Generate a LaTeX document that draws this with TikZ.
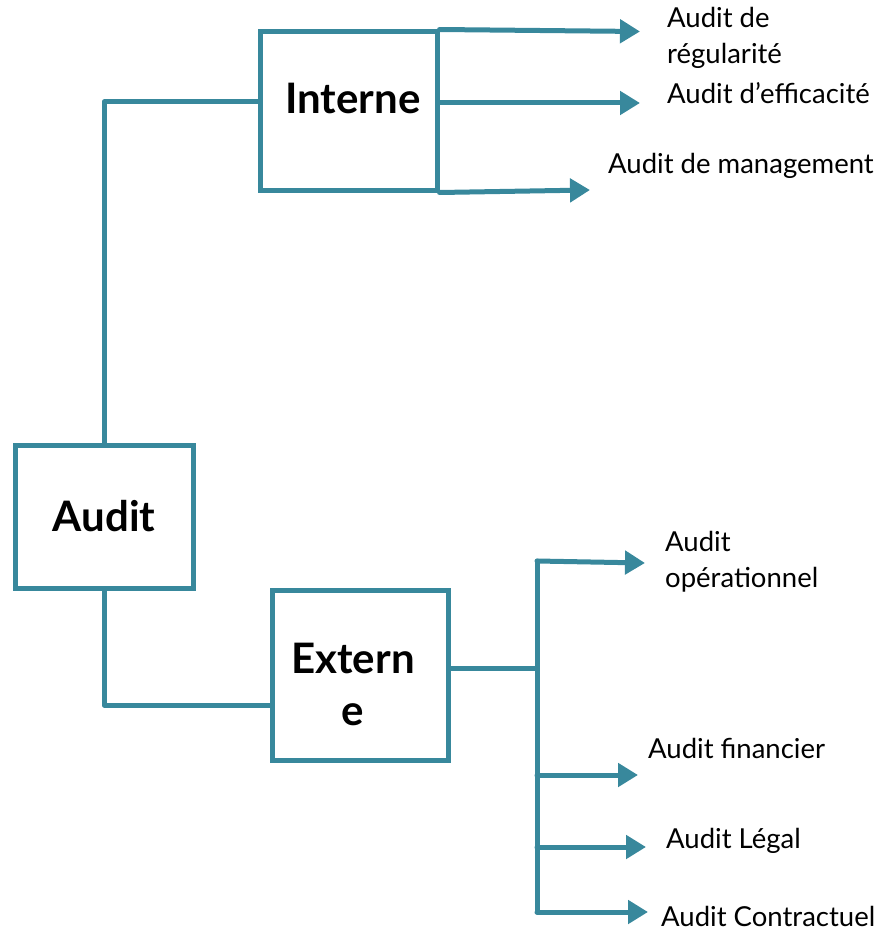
\documentclass[tikz,border=0pt]{standalone}
\usepackage{fontspec}
\setmainfont{Lato}
\usetikzlibrary{arrows.meta}
\definecolor{linkteal}{RGB}{56,136,156}
\tikzset{
  box/.style={draw=linkteal, line width=5pt, fill=white, font=\bfseries\fontsize{42}{52}\selectfont, align=center, inner sep=0pt},
  link/.style={draw=linkteal, line width=5pt, line cap=round, line join=round},
  arr/.style={link, -{Triangle[length=20pt,width=23pt]}},
  lbl/.style={anchor=west, inner sep=0pt, align=left, font=\fontsize{27.5}{36}\selectfont}
}
\begin{document}
\begin{tikzpicture}[x=1pt, y=-1pt]
\useasboundingbox (0,0) rectangle (887,931);

% main boxes
\node[box, minimum width=178pt, minimum height=143pt] (audit) at (104,516.5) {Audit};
\node[box, minimum width=177pt, minimum height=158pt] (interne) at (348.5,111)
  {\kern9pt\raisebox{13pt}[\height][\depth]{Interne}};
\node[box, minimum width=176pt, minimum height=170pt] (externe) at (360,675)
  {\raisebox{-14pt}[\height][\depth]{\begin{tabular}{@{}c@{}}Extern\\e\end{tabular}}\kern14pt};

% branch labels
\node[lbl] (reg) at (667,38) {Audit de\\régularité};
\node[lbl] (eff) at (667,93) {Audit d'efficacité};
\node[lbl] (man) at (608,166) {Audit de management};
\node[lbl] (ope) at (665,562) {Audit\\opérationnel};
\node[lbl] (fin) at (648,748) {Audit financier};
\node[lbl] (leg) at (666,841) {Audit Légal};
\node[lbl] (con) at (661,916) {Audit Contractuel};

% arrow tips and junctions
\coordinate (t1) at (640,31.5);
\coordinate (t2) at (640,103);
\coordinate (t3) at (590,190);
\coordinate (hub) at (537,668);
\coordinate (jtop) at (537,561);
\coordinate (jfin) at (537,775);
\coordinate (jleg) at (537,847);
\coordinate (jcon) at (537,912);
\coordinate (t4) at (645,563);
\coordinate (t5) at (638,775);
\coordinate (t6) at (646,847);
\coordinate (t7) at (648,912);

% Audit to Interne and Externe
\draw[link] (audit.north) |- ([yshift=9pt]interne.west);
\draw[link] (audit.south) |- ([yshift=-30pt]externe.west);

% Interne branches
\draw[arr] (interne.north east) -- (t1);
\draw[arr] (interne.east |- t2) -- (t2);
\draw[arr] (interne.south east) -- (t3);

% Externe branches
\draw[link] (externe.east |- hub) -- (hub);
\draw[link] (jtop) -- (jcon);
\draw[arr] (jtop) -- (t4);
\draw[arr] (jfin) -- (t5);
\draw[arr] (jleg) -- (t6);
\draw[arr] (jcon) -- (t7);
\end{tikzpicture}
\end{document}
